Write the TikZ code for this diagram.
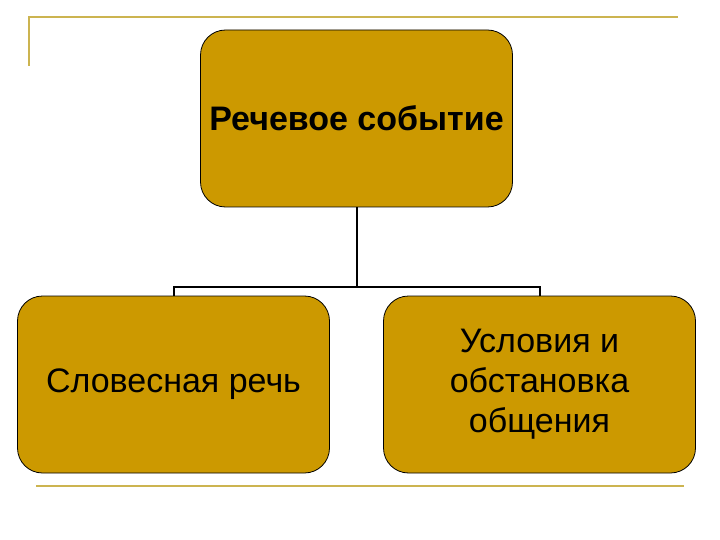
\documentclass[tikz,border=0pt]{standalone}
\usepackage{fontspec}
\setmainfont{Liberation Sans}
\usetikzlibrary{trees}

\definecolor{boxgold}{RGB}{204,153,0}
\definecolor{rulegold}{RGB}{204,180,80}

\tikzset{
  topic/.style={draw=black, line width=0.8pt, fill=boxgold, rounded corners=25pt,
    minimum width=312pt, minimum height=177pt, align=center, inner sep=0pt,
    font=\fontsize{34}{40}\selectfont},
  deco/.style={draw=rulegold, line width=2pt}
}

\begin{document}
\begin{tikzpicture}[x=1pt, y=-1pt, level distance=266pt, sibling distance=366pt,
    edge from parent/.style={draw, black, line width=2pt},
    edge from parent path={(\tikzparentnode.south) -- ++(0,80) -| (\tikzchildnode.north)}]
  \useasboundingbox (0,0) rectangle (720,540);
  % frame lines
  \draw[deco] (29,66) -- (29,17) -- (678,17);
  \draw[deco] (36,486) -- (684,486);
  % tree
  \node[topic, font=\fontsize{34}{40}\selectfont\bfseries] (event) at (356.5,118.5) {Речевое событие}
    child {node[topic] (speech) {Словесная речь}}
    child {node[topic] (setting) {Условия и\\обстановка\\общения}};
\end{tikzpicture}
\end{document}
